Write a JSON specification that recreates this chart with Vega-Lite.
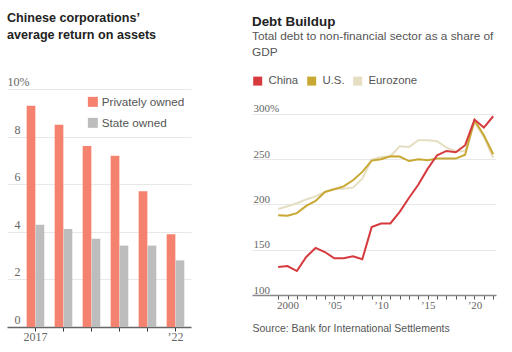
{
  "$schema": "https://vega.github.io/schema/vega-lite/v6.json",
  "padding": {"left": 7, "top": 12, "right": 0, "bottom": 0},
  "background": "white",
  "config": {"font": "Liberation Sans", "view": {"stroke": null}, "concat": {"spacing": 61}},
  "resolve": {"scale": {"color": "independent"}, "legend": {"color": "independent"}},
  "hconcat": [
    {
      "width": 184,
      "height": 238,
      "title": {
        "text": ["Chinese corporations’", "average return on assets"],
        "anchor": "start",
        "fontSize": 12.6,
        "fontWeight": "bold",
        "color": "#222",
        "lineHeight": 16.5,
        "offset": 34
      },
      "data": {
        "values": [
          {"year": "2017", "type": "Privately owned", "value": 9.3},
          {"year": "2017", "type": "State owned", "value": 4.3},
          {"year": "2018", "type": "Privately owned", "value": 8.5},
          {"year": "2018", "type": "State owned", "value": 4.12},
          {"year": "2019", "type": "Privately owned", "value": 7.6},
          {"year": "2019", "type": "State owned", "value": 3.71},
          {"year": "2020", "type": "Privately owned", "value": 7.2},
          {"year": "2020", "type": "State owned", "value": 3.42},
          {"year": "2021", "type": "Privately owned", "value": 5.7},
          {"year": "2021", "type": "State owned", "value": 3.42},
          {"year": "2022", "type": "Privately owned", "value": 3.9},
          {"year": "2022", "type": "State owned", "value": 2.8}
        ]
      },
      "mark": {"type": "bar"},
      "encoding": {
        "x": {
          "field": "year",
          "type": "ordinal",
          "scale": {"paddingInner": 0.371, "paddingOuter": 0.471, "align": 0.746},
          "axis": {
            "title": null,
            "labelAngle": 0,
            "labelExpr": "datum.value == '2017' ? '2017' : (datum.value == '2022' ? '’22' : '')",
            "labelFont": "Liberation Sans Narrow",
            "labelFontSize": 12,
            "labelColor": "#666",
            "labelPadding": 0,
            "tickSize": 4,
            "tickColor": "#333",
            "domainColor": "#666",
            "domainWidth": 1.5,
            "grid": false
          }
        },
        "xOffset": {"field": "type", "sort": ["Privately owned", "State owned"], "scale": {"paddingInner": 0.03}},
        "y": {
          "field": "value",
          "type": "quantitative",
          "scale": {"domain": [0, 10]},
          "axis": {
            "title": null,
            "values": [0, 2, 4, 6, 8, 10],
            "labelExpr": "datum.value == 10 ? '10%' : datum.label",
            "labelAlign": "left",
            "labelBaseline": "alphabetic",
            "labelOffset": -3.5,
            "labelPadding": {"condition": {"test": "datum.value == 10", "value": 0}, "value": -7},
            "labelFont": "Liberation Sans Narrow",
            "labelFontSize": 12,
            "labelColor": "#666",
            "ticks": false,
            "tickSize": 0,
            "domain": false,
            "grid": true,
            "gridColor": "#e8e8e8"
          }
        },
        "color": {
          "field": "type",
          "type": "nominal",
          "scale": {"domain": ["Privately owned", "State owned"], "range": ["#f4826f", "#bdbdbd"]},
          "legend": {
            "title": null,
            "orient": "none",
            "legendX": 80,
            "legendY": 7,
            "symbolType": "square",
            "symbolSize": 100,
            "symbolStrokeWidth": 0,
            "labelFontSize": 11.7,
            "labelColor": "#555",
            "labelOffset": 3,
            "rowPadding": 8
          }
        }
      }
    },
    {
      "width": 244,
      "height": 206,
      "title": {
        "text": "Debt Buildup",
        "subtitle": ["Total debt to non-financial sector as a share of", "GDP"],
        "anchor": "start",
        "fontSize": 13.4,
        "fontWeight": "bold",
        "color": "#222",
        "subtitleFontSize": 11.8,
        "subtitleColor": "#555",
        "subtitleLineHeight": 16.3,
        "subtitlePadding": 3,
        "offset": 16
      },
      "data": {
        "values": [
          {"country": "Eurozone", "year": 1999, "value": 195},
          {"country": "Eurozone", "year": 2000, "value": 198},
          {"country": "Eurozone", "year": 2001, "value": 201.4},
          {"country": "Eurozone", "year": 2002, "value": 205.5},
          {"country": "Eurozone", "year": 2003, "value": 209},
          {"country": "Eurozone", "year": 2004, "value": 213.8},
          {"country": "Eurozone", "year": 2005, "value": 217.5},
          {"country": "Eurozone", "year": 2006, "value": 217.5},
          {"country": "Eurozone", "year": 2007, "value": 218.6},
          {"country": "Eurozone", "year": 2008, "value": 228.6},
          {"country": "Eurozone", "year": 2009, "value": 249.5},
          {"country": "Eurozone", "year": 2010, "value": 252.5},
          {"country": "Eurozone", "year": 2011, "value": 253.3},
          {"country": "Eurozone", "year": 2012, "value": 264.4},
          {"country": "Eurozone", "year": 2013, "value": 263.6},
          {"country": "Eurozone", "year": 2014, "value": 271},
          {"country": "Eurozone", "year": 2015, "value": 271},
          {"country": "Eurozone", "year": 2016, "value": 270},
          {"country": "Eurozone", "year": 2017, "value": 262.8},
          {"country": "Eurozone", "year": 2018, "value": 258.8},
          {"country": "Eurozone", "year": 2019, "value": 258.8},
          {"country": "Eurozone", "year": 2020, "value": 290.5},
          {"country": "Eurozone", "year": 2021, "value": 274.7},
          {"country": "Eurozone", "year": 2022, "value": 251.4},
          {"country": "U.S.", "year": 1999, "value": 188},
          {"country": "U.S.", "year": 2000, "value": 187.5},
          {"country": "U.S.", "year": 2001, "value": 190.5},
          {"country": "U.S.", "year": 2002, "value": 198.5},
          {"country": "U.S.", "year": 2003, "value": 204},
          {"country": "U.S.", "year": 2004, "value": 213.8},
          {"country": "U.S.", "year": 2005, "value": 216.8},
          {"country": "U.S.", "year": 2006, "value": 220},
          {"country": "U.S.", "year": 2007, "value": 226.8},
          {"country": "U.S.", "year": 2008, "value": 236},
          {"country": "U.S.", "year": 2009, "value": 248.5},
          {"country": "U.S.", "year": 2010, "value": 250},
          {"country": "U.S.", "year": 2011, "value": 253.3},
          {"country": "U.S.", "year": 2012, "value": 253},
          {"country": "U.S.", "year": 2013, "value": 248},
          {"country": "U.S.", "year": 2014, "value": 250},
          {"country": "U.S.", "year": 2015, "value": 249},
          {"country": "U.S.", "year": 2016, "value": 250.7},
          {"country": "U.S.", "year": 2017, "value": 250.7},
          {"country": "U.S.", "year": 2018, "value": 250.7},
          {"country": "U.S.", "year": 2019, "value": 255},
          {"country": "U.S.", "year": 2020, "value": 293},
          {"country": "U.S.", "year": 2021, "value": 276.5},
          {"country": "U.S.", "year": 2022, "value": 255.5},
          {"country": "China", "year": 1999, "value": 131},
          {"country": "China", "year": 2000, "value": 132},
          {"country": "China", "year": 2001, "value": 126.5},
          {"country": "China", "year": 2002, "value": 142},
          {"country": "China", "year": 2003, "value": 152},
          {"country": "China", "year": 2004, "value": 147.5},
          {"country": "China", "year": 2005, "value": 140.6},
          {"country": "China", "year": 2006, "value": 140.6},
          {"country": "China", "year": 2007, "value": 142.8},
          {"country": "China", "year": 2008, "value": 139.5},
          {"country": "China", "year": 2009, "value": 175},
          {"country": "China", "year": 2010, "value": 178.9},
          {"country": "China", "year": 2011, "value": 179},
          {"country": "China", "year": 2012, "value": 191.8},
          {"country": "China", "year": 2013, "value": 207.5},
          {"country": "China", "year": 2014, "value": 222},
          {"country": "China", "year": 2015, "value": 239.6},
          {"country": "China", "year": 2016, "value": 254.4},
          {"country": "China", "year": 2017, "value": 259.2},
          {"country": "China", "year": 2018, "value": 257.7},
          {"country": "China", "year": 2019, "value": 265.5},
          {"country": "China", "year": 2020, "value": 293.8},
          {"country": "China", "year": 2021, "value": 285},
          {"country": "China", "year": 2022, "value": 297.5}
        ]
      },
      "mark": {"type": "line", "strokeWidth": 2},
      "encoding": {
        "x": {
          "field": "year",
          "type": "quantitative",
          "scale": {"domain": [1996.2, 2022.3], "nice": false, "zero": false},
          "axis": {
            "title": "Source: Bank for International Settlements",
            "titleAnchor": "start",
            "titleAlign": "left",
            "titleFontWeight": "normal",
            "titleFontSize": 10.5,
            "titleColor": "#555",
            "titlePadding": 13,
            "values": [1999, 2000, 2001, 2002, 2003, 2004, 2005, 2006, 2007, 2008, 2009, 2010, 2011, 2012, 2013, 2014, 2015, 2016, 2017, 2018, 2019, 2020, 2021, 2022],
            "labelExpr": "datum.value % 5 != 0 ? '' : (datum.value == 2000 ? '2000' : '’' + substring(toString(datum.value), 2))",
            "labelOverlap": false,
            "labelFlush": false,
            "labelFont": "Liberation Sans Narrow",
            "labelFontSize": 11,
            "labelColor": "#666",
            "labelPadding": 0,
            "tickSize": 4,
            "tickColor": "#555",
            "domainColor": "#888",
            "domainWidth": 1.5,
            "grid": false
          }
        },
        "y": {
          "field": "value",
          "type": "quantitative",
          "scale": {"domain": [100, 327.6], "nice": false, "zero": false},
          "axis": {
            "title": null,
            "values": [100, 150, 200, 250, 300],
            "labelExpr": "datum.value == 300 ? '300%' : datum.label",
            "labelAlign": "left",
            "labelBaseline": "alphabetic",
            "labelOffset": -2,
            "labelPadding": -1,
            "labelFont": "Liberation Sans Narrow",
            "labelFontSize": 11,
            "labelColor": "#666",
            "ticks": false,
            "tickSize": 0,
            "domain": false,
            "grid": true,
            "gridColor": "#e8e8e8"
          }
        },
        "color": {
          "field": "country",
          "type": "nominal",
          "scale": {"domain": ["China", "U.S.", "Eurozone"], "range": ["#d63a3f", "#c8a832", "#e5dec3"]},
          "legend": {
            "title": null,
            "orient": "top",
            "direction": "horizontal",
            "symbolType": "square",
            "symbolSize": 1,
            "symbolStrokeWidth": 8,
            "labelFontSize": 11.4,
            "labelColor": "#555",
            "labelOffset": 5,
            "columnPadding": -4,
            "offset": -9
          }
        }
      }
    }
  ]
}
